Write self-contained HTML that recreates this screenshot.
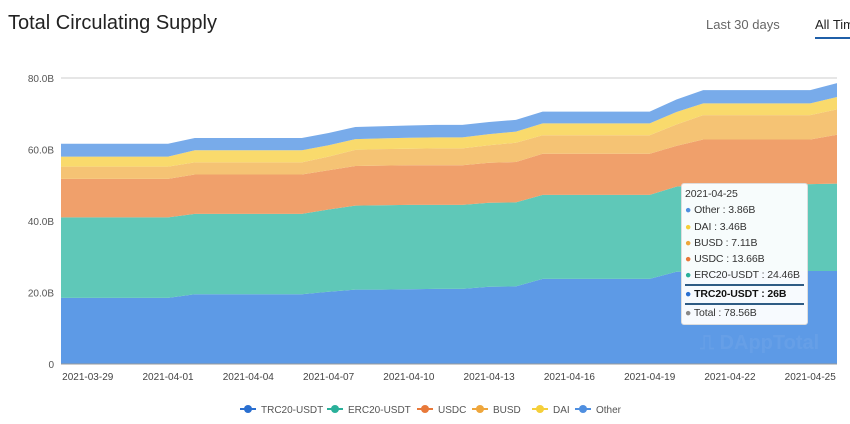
<!DOCTYPE html>
<html><head><meta charset="utf-8">
<style>
body{margin:0;width:850px;height:424px;background:#fff;font-family:"Liberation Sans",sans-serif;overflow:hidden;position:relative}
.t{position:absolute;white-space:nowrap}
#tip div{white-space:nowrap}
</style></head><body>
<div class="t" style="left:8px;top:12px;font-size:20px;color:#222">Total Circulating Supply</div>
<div class="t" style="left:706px;top:17px;font-size:13px;color:#666">Last 30 days</div>
<div class="t" style="left:815px;top:17px;font-size:13px;color:#222">All Time</div>
<div style="position:absolute;left:815px;top:37px;width:35px;height:2px;background:#1f5fa8"></div>
<svg id="chart" width="850" height="424" style="position:absolute;left:0;top:0"></svg>
<div class="t" style="left:700px;top:332px;font-size:20px;color:rgba(255,255,255,0.06);font-weight:bold">⎍ DAppTotal</div>
<div id="tip" style="position:absolute;left:681px;top:183px;width:127px;height:142px;background:rgba(255,255,255,0.95);border:1px solid #ddd;border-radius:3px;font-size:10.5px;color:#333;line-height:16.3px;padding:2px 3px;box-sizing:border-box;letter-spacing:-0.1px">
<div>2021-04-25</div>
<div><span style="color:#4f8fe0">●</span> Other : 3.86B</div>
<div><span style="color:#f5cf3a">●</span> DAI : 3.46B</div>
<div><span style="color:#eea63c">●</span> BUSD : 7.11B</div>
<div><span style="color:#e8793a">●</span> USDC : 13.66B</div>
<div style="border-bottom:2px solid #2e5b84"><span style="color:#2ab09a">●</span> ERC20-USDT : 24.46B</div>
<div style="font-weight:bold;color:#111;border-bottom:2px solid #2e5b84;line-height:17px"><span style="color:#2a6fd0">●</span> TRC20-USDT : 26B</div>
<div><span style="color:#888">●</span> Total : 78.56B</div>
</div>
<script>
const dates=["2021-03-28","2021-03-29","2021-03-30","2021-03-31","2021-04-01","2021-04-02","2021-04-03","2021-04-04","2021-04-05","2021-04-06","2021-04-07","2021-04-08","2021-04-09","2021-04-10","2021-04-11","2021-04-12","2021-04-13","2021-04-14","2021-04-15","2021-04-16","2021-04-17","2021-04-18","2021-04-19","2021-04-20","2021-04-21","2021-04-22","2021-04-23","2021-04-24","2021-04-25","2021-04-26"];
const trc=[18.5,18.5,18.5,18.5,18.5,19.5,19.5,19.5,19.5,19.5,20.2,20.8,20.8,20.9,21.0,21.0,21.6,21.7,23.8,23.8,23.8,23.8,23.8,25.8,26.0,26.0,26.0,26.0,26.0,26.0];
const erc=[22.5,22.5,22.5,22.5,22.5,22.5,22.5,22.5,22.5,22.5,23.0,23.5,23.6,23.6,23.5,23.5,23.5,23.5,23.5,23.5,23.5,23.5,23.5,23.8,24.3,24.3,24.3,24.3,24.3,24.46];
const usdc=[10.8,10.8,10.8,10.8,10.8,11.0,11.0,11.0,11.0,11.0,11.0,11.1,11.1,11.1,11.1,11.1,11.2,11.3,11.5,11.5,11.5,11.5,11.5,11.4,12.5,12.5,12.5,12.5,12.5,13.66];
const busd=[3.4,3.4,3.4,3.4,3.4,3.4,3.4,3.4,3.4,3.4,3.8,4.5,4.6,4.6,4.7,4.7,4.9,5.4,5.2,5.2,5.2,5.2,5.2,6.0,6.8,6.8,6.8,6.8,6.8,7.11];
const dai=[2.8,2.8,2.8,2.8,2.8,3.4,3.4,3.4,3.4,3.4,3.2,3.0,3.0,3.1,3.1,3.1,3.1,3.1,3.3,3.3,3.3,3.3,3.3,3.5,3.3,3.3,3.3,3.3,3.3,3.46];
const other=[3.6,3.6,3.6,3.6,3.6,3.4,3.4,3.4,3.4,3.4,3.4,3.4,3.4,3.4,3.5,3.5,3.4,3.3,3.3,3.3,3.3,3.3,3.3,3.5,3.7,3.7,3.7,3.7,3.7,3.86];
const yTicks=[0,20,40,60,80];
const yTickLabels=["0","20.0B","40.0B","60.0B","80.0B"];
const xLabelIdx=[1,4,7,10,13,16,19,22,25,28];
const seriesNames=["TRC20-USDT","ERC20-USDT","USDC","BUSD","DAI","Other"];

const NS="http://www.w3.org/2000/svg";
const svg=document.getElementById('chart');
const x0=61,x1=837,yb=364,yt=78;
const X=i=>x0+(x1-x0)*i/(dates.length-1);
const Y=v=>yb-(yb-yt)*v/80;
function mk(t,a){const e=document.createElementNS(NS,t);for(const k in a)e.setAttribute(k,a[k]);svg.appendChild(e);return e;}
yTicks.forEach((v,k)=>{
  if(v>0){const g=mk('line',{x1:x0,x2:x1,y1:Y(v),y2:Y(v),stroke:k==4?'#ccc':'#e4e4e4','stroke-width':1});
  
  }
  const t=mk('text',{x:54,y:Y(v)+4,'text-anchor':'end','font-size':10,fill:'#555','font-family':'Liberation Sans, sans-serif'});
  t.textContent=yTickLabels[k];
  
  
});
const series=[trc,erc,usdc,busd,dai,other];
const fills=["#5d9ae6","#5fc8b8","#f0a06b","#f5c374","#f9da6c","#78abea"];
const icons=["#2a6fd0","#2ab09a","#e8793a","#eea63c","#f5cf3a","#4f8fe0"];
let base=dates.map(()=>0);
series.forEach((s,si)=>{
  const top=base.map((b,i)=>b+s[i]);
  let d='M'+top.map((v,i)=>X(i)+','+Y(v)).join(' L');
  for(let i=dates.length-1;i>=0;i--)d+=' L'+X(i)+','+Y(base[i]);
  const p=mk('path',{d:d+'Z',fill:fills[si]});
  
  
  base=top;
});
mk('line',{x1:x0,x2:x1,y1:yb,y2:yb,stroke:'#999','stroke-width':1});
xLabelIdx.forEach(i=>{
  const t=mk('text',{x:X(i),y:380,'text-anchor':'middle','font-size':10,fill:'#444','font-family':'Liberation Sans, sans-serif'});
  t.textContent=dates[i];
  
  
});
const legX=[240,327,417,472,532,575];
seriesNames.forEach((n,i)=>{
  const l=mk('line',{x1:legX[i],x2:legX[i]+16,y1:409,y2:409,stroke:icons[i],'stroke-width':2});
  
  
  const c=mk('circle',{cx:legX[i]+8,cy:409,r:4,fill:icons[i]});
  
  
  const t=mk('text',{x:legX[i]+21,y:413,'font-size':10,fill:'#555','font-family':'Liberation Sans, sans-serif'});
  t.textContent=n;
  
  
});
</script>
</body></html>
